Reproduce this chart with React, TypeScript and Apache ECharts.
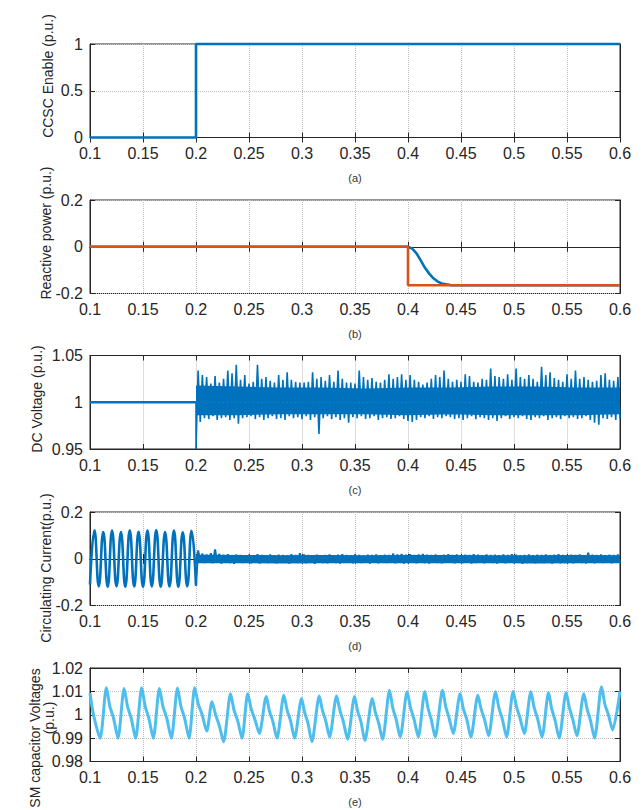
import React, { useEffect, useRef } from "react";
import * as echarts from "echarts";

// ---- (a) CCSC enable signal ----
const enableT = [0.1, 0.2, 0.2, 0.6];
const enableV = [0, 0, 1, 1];

// ---- (b) reactive power: reference and measured ----
const qRefT = [0.1, 0.4, 0.4, 0.6];
const qRefV = [0, 0, -0.165, -0.165];
const qMeasT = [0.1, 0.4, 0.404, 0.408, 0.412, 0.416, 0.42, 0.424, 0.428, 0.432, 0.436, 0.44, 0.446, 0.6];
const qMeasV = [0, 0, -0.008, -0.028, -0.058, -0.09, -0.115, -0.135, -0.149, -0.157, -0.161, -0.164, -0.165, -0.165];

// ---- (c) DC voltage ----
const dcPreT = [0.1, 0.2];
const dcPreV = [1, 1];
const dcStepT = [0.2, 0.2];
const dcStepV = [1, 0.95];
// dense body of the ripple band after 0.2 s
const dcCoreT = [0.2, 0.24, 0.28, 0.32, 0.36, 0.4, 0.44, 0.48, 0.52, 0.56, 0.6];
const dcCoreHi = [1.017, 1.016, 1.015, 1.015, 1.014, 1.015, 1.015, 1.016, 1.016, 1.015, 1.015];
const dcCoreLo = [0.987, 0.987, 0.988, 0.988, 0.988, 0.987, 0.988, 0.987, 0.987, 0.987, 0.988];
// ripple excursions, one high / low pair every 4 ms
const dcHi = [
  1.034, 1.029, 1.027, 1.020, 1.028, 1.021, 1.025, 1.034, 1.031, 1.040,
  1.024, 1.029, 1.020, 1.022, 1.040, 1.025, 1.027, 1.023, 1.021, 1.029,
  1.024, 1.032, 1.024, 1.022, 1.021, 1.021, 1.022, 1.032, 1.025, 1.027,
  1.023, 1.029, 1.022, 1.034, 1.025, 1.021, 1.021, 1.020, 1.034, 1.027,
  1.024, 1.026, 1.022, 1.021, 1.024, 1.030, 1.025, 1.027, 1.030, 1.024,
  1.029, 1.024, 1.022, 1.019, 1.021, 1.025, 1.029, 1.027, 1.034, 1.025,
  1.022, 1.024, 1.022, 1.030, 1.028, 1.022, 1.021, 1.025, 1.024, 1.036,
  1.028, 1.027, 1.025, 1.030, 1.024, 1.036, 1.027, 1.025, 1.029, 1.025,
  1.022, 1.038, 1.029, 1.032, 1.026, 1.024, 1.022, 1.030, 1.025, 1.034,
  1.025, 1.027, 1.024, 1.022, 1.023, 1.029, 1.031, 1.024, 1.023, 1.027,
];
const dcLo = [
  0.979, 0.983, 0.982, 0.985, 0.981, 0.983, 0.984, 0.981, 0.983, 0.977,
  0.983, 0.984, 0.985, 0.982, 0.984, 0.981, 0.983, 0.985, 0.982, 0.983,
  0.981, 0.985, 0.983, 0.984, 0.982, 0.985, 0.981, 0.984, 0.966, 0.983,
  0.985, 0.982, 0.984, 0.981, 0.983, 0.978, 0.984, 0.983, 0.985, 0.982,
  0.983, 0.985, 0.981, 0.983, 0.984, 0.982, 0.983, 0.985, 0.982, 0.980,
  0.979, 0.981, 0.984, 0.983, 0.985, 0.982, 0.984, 0.983, 0.985, 0.984,
  0.982, 0.983, 0.981, 0.983, 0.985, 0.982, 0.984, 0.983, 0.981, 0.983,
  0.980, 0.983, 0.985, 0.982, 0.984, 0.983, 0.985, 0.982, 0.981, 0.984,
  0.983, 0.985, 0.981, 0.983, 0.984, 0.982, 0.985, 0.983, 0.984, 0.982,
  0.983, 0.985, 0.981, 0.978, 0.976, 0.983, 0.982, 0.984, 0.981, 0.983,
];

// ---- (d) circulating current ----
// oscillation extremes before suppression
const ccWaveT = [
  0.1, 0.1042, 0.1083, 0.1125, 0.1167, 0.1208, 0.125, 0.1292, 0.1333, 0.1375,
  0.1417, 0.1458, 0.15, 0.1542, 0.1583, 0.1625, 0.1667, 0.1708, 0.175, 0.1792,
  0.1833, 0.1875, 0.1917, 0.1958, 0.2,
];
const ccWaveV = [
  -0.11, 0.122, -0.118, 0.114, -0.12, 0.121, -0.118, 0.114, -0.12, 0.122,
  -0.119, 0.115, -0.12, 0.121, -0.118, 0.123, -0.12, 0.114, -0.119, 0.121,
  -0.12, 0.113, -0.118, 0.12, -0.115,
];
// dense body of the residual ripple
const ccCoreT = [0.2, 0.24, 0.28, 0.32, 0.36, 0.4, 0.44, 0.48, 0.52, 0.56, 0.6];
const ccCoreHi = [0.014, 0.013, 0.012, 0.013, 0.012, 0.013, 0.013, 0.012, 0.012, 0.013, 0.012];
const ccCoreLo = [-0.016, -0.016, -0.017, -0.016, -0.016, -0.015, -0.016, -0.016, -0.017, -0.016, -0.016];
// residual ripple excursions after 0.2 s
const ccHi = [
  0.036, 0.022, 0.018, 0.024, 0.040, 0.021, 0.017, 0.019, 0.015, 0.018,
  0.016, 0.014, 0.017, 0.015, 0.019, 0.016, 0.014, 0.018, 0.015, 0.017,
  0.016, 0.015, 0.019, 0.016, 0.024, 0.018, 0.016, 0.015, 0.017, 0.014,
  0.016, 0.018, 0.015, 0.017, 0.019, 0.016, 0.015, 0.018, 0.016, 0.014,
  0.017, 0.016, 0.018, 0.015, 0.017, 0.016, 0.022, 0.018, 0.020, 0.017,
  0.019, 0.016, 0.018, 0.020, 0.017, 0.016, 0.018, 0.015, 0.017, 0.019,
  0.016, 0.018, 0.015, 0.017, 0.016, 0.019, 0.017, 0.015, 0.018, 0.016,
  0.017, 0.015, 0.018, 0.016, 0.019, 0.017, 0.015, 0.016, 0.018, 0.015,
  0.017, 0.016, 0.018, 0.015, 0.017, 0.019, 0.016, 0.015, 0.017, 0.016,
  0.018, 0.015, 0.026, 0.017, 0.016, 0.018, 0.015, 0.017, 0.016, 0.018,
];
const ccLo = [
  -0.012, -0.018, -0.016, -0.019, -0.015, -0.020, -0.017, -0.018, -0.021, -0.016,
  -0.018, -0.015, -0.019, -0.017, -0.020, -0.016, -0.018, -0.015, -0.019, -0.017,
  -0.016, -0.020, -0.017, -0.018, -0.015, -0.019, -0.016, -0.021, -0.017, -0.018,
  -0.019, -0.016, -0.018, -0.020, -0.017, -0.015, -0.019, -0.017, -0.018, -0.016,
  -0.020, -0.017, -0.019, -0.016, -0.018, -0.015, -0.019, -0.017, -0.020, -0.018,
  -0.016, -0.019, -0.017, -0.018, -0.020, -0.016, -0.018, -0.019, -0.017, -0.015,
  -0.019, -0.017, -0.018, -0.016, -0.020, -0.018, -0.017, -0.019, -0.016, -0.018,
  -0.020, -0.017, -0.019, -0.016, -0.018, -0.017, -0.021, -0.018, -0.016, -0.019,
  -0.017, -0.018, -0.016, -0.020, -0.017, -0.019, -0.018, -0.016, -0.019, -0.017,
  -0.018, -0.020, -0.016, -0.019, -0.017, -0.018, -0.016, -0.019, -0.017, -0.018,
];

// ---- (e) SM capacitor voltage ----
const smLeadT = [0.1, 0.1033, 0.1095];
const smLeadV = [1.0093, 1.0, 0.99];
const smPeakT = [
  0.1155, 0.1322, 0.1488, 0.1655, 0.1826, 0.1988, 0.2151, 0.2326, 0.2488, 0.2663,
  0.2829, 0.2996, 0.3163, 0.3326, 0.3496, 0.3663, 0.3826, 0.3992, 0.4159, 0.4326,
  0.4492, 0.4659, 0.4826, 0.4992, 0.5159, 0.5326, 0.5492, 0.5659, 0.5826,
];
const smPeakV = [
  1.0115, 1.0112, 1.0115, 1.0112, 1.0114, 1.0115, 1.0056, 1.009, 1.009, 1.0078,
  1.0083, 1.007, 1.008, 1.008, 1.0078, 1.007, 1.0105, 1.0098, 1.01, 1.0105,
  1.009, 1.0083, 1.0098, 1.01, 1.0098, 1.0095, 1.0095, 1.009, 1.012,
];
// knee on the falling flank of each cycle
const smShoulderHi = [
  1.0035, 1.0035, 1.0035, 1.0035, 1.0035, 1.0045, 1.0002, 1.002, 1.0025, 1.0015,
  1.002, 1.001, 1.002, 1.002, 1.0015, 1.001, 1.003, 1.003, 1.003, 1.0035,
  1.0025, 1.0025, 1.003, 1.0035, 1.003, 1.0025, 1.003, 1.0025, 1.0045,
];
const smShoulderLo = [
  0.9985, 0.9985, 0.9985, 0.9985, 0.9985, 1.0, 0.9955, 0.9975, 0.998, 0.997,
  0.9975, 0.9965, 0.9975, 0.997, 0.997, 0.9965, 0.998, 0.998, 0.998, 0.9985,
  0.998, 0.998, 0.998, 0.9985, 0.998, 0.9975, 0.998, 0.9975, 1.0,
];
const smTroughT = [
  0.1264, 0.143, 0.1597, 0.1767, 0.1934, 0.2101, 0.226, 0.2434, 0.2597, 0.2764,
  0.293, 0.3093, 0.326, 0.343, 0.3593, 0.376, 0.3926, 0.4097, 0.4256, 0.4426,
  0.4593, 0.476, 0.493, 0.5097, 0.5264, 0.5426, 0.5593, 0.576, 0.593,
];
const smTroughV = [
  0.99, 0.99, 0.99, 0.99, 0.99, 0.993, 0.9885, 0.99, 0.992, 0.99,
  0.99, 0.9885, 0.9905, 0.9895, 0.989, 0.9895, 0.9905, 0.9905, 0.9905, 0.992,
  0.9905, 0.991, 0.9905, 0.992, 0.9905, 0.99, 0.991, 0.99, 0.9935,
];
const smEndT = [0.6];
const smEndV = [1.01];

// ---- axis ticks / labels ----
const timeMin = 0.1;
const timeMax = 0.6;
const timeStep = 0.05;
const panelLetters = ["(a)", "(b)", "(c)", "(d)", "(e)"];

const BLUE = "#0072BD";
const ORANGE = "#D95319";
const LIGHT_BLUE = "#4DBEEE";
const AX = "#262626";
const GRID_LINE = "#bdbdbd";
const FONT = "'Liberation Sans', Arial, Helvetica, sans-serif";

const PLOT_LEFT = 90;
const PLOT_RIGHT = 22;
const PLOT_H = 93.5;

const panels = [
  { top: 44, yMin: 0, yMax: 1, yStep: 0.5 },
  { top: 200, yMin: -0.2, yMax: 0.2, yStep: 0.2 },
  { top: 355.5, yMin: 0.95, yMax: 1.05, yStep: 0.05 },
  { top: 512, yMin: -0.2, yMax: 0.2, yStep: 0.2 },
  { top: 668, yMin: 0.98, yMax: 1.02, yStep: 0.01 },
];

const pairs = (ts: number[], vs: number[]) => ts.map((t, i) => [t, vs[i]]);

// alternating high/low samples of a fast ripple, t0 + step*(i+0.5) for highs
function ripple(t0: number, step: number, hi: number[], lo: number[]) {
  const out: number[][] = [];
  const n = Math.min(hi.length, lo.length);
  for (let i = 0; i < n; i++) {
    out.push([t0 + step * (i + 0.5), hi[i]]);
    out.push([t0 + step * (i + 1), lo[i]]);
  }
  return out;
}

function capacitorTrace() {
  const out: number[][] = pairs(smLeadT, smLeadV);
  for (let k = 0; k < smPeakT.length; k++) {
    const tp = smPeakT[k];
    const tt = smTroughT[k];
    out.push([tp, smPeakV[k]]);
    out.push([tp + (tt - tp) * 0.3, smShoulderHi[k]]);
    out.push([tp + (tt - tp) * 0.62, smShoulderLo[k]]);
    out.push([tt, smTroughV[k]]);
  }
  return out.concat(pairs(smEndT, smEndV));
}

const fmt = (v: number) => String(parseFloat(v.toFixed(3)));

function buildOption() {
  const grid: any[] = [];
  const xAxis: any[] = [];
  const yAxis: any[] = [];
  const graphic: any[] = [];

  panels.forEach((p, i) => {
    grid.push({
      left: PLOT_LEFT,
      right: PLOT_RIGHT,
      top: p.top,
      height: PLOT_H,
      show: true,
      borderColor: AX,
      borderWidth: 1,
      backgroundColor: "#fff",
    });
    const tick = { show: true, inside: true, length: 5, lineStyle: { color: AX, width: 1 } };
    const line = { show: true, lineStyle: { color: AX, width: 1 } };
    xAxis.push({
      gridIndex: i,
      type: "value",
      position: "bottom",
      min: timeMin,
      max: timeMax,
      interval: timeStep,
      axisLine: line,
      axisTick: tick,
      axisLabel: { fontSize: 16, color: AX, margin: 8, fontFamily: FONT, formatter: fmt },
      splitLine: { show: true, lineStyle: { type: "dotted", color: GRID_LINE, width: 1 } },
    });
    xAxis.push({
      gridIndex: i,
      type: "value",
      position: "top",
      min: timeMin,
      max: timeMax,
      interval: timeStep,
      axisLine: line,
      axisTick: tick,
      axisLabel: { show: false },
      splitLine: { show: false },
    });
    yAxis.push({
      gridIndex: i,
      type: "value",
      position: "left",
      min: p.yMin,
      max: p.yMax,
      interval: p.yStep,
      axisLine: line,
      axisTick: tick,
      axisLabel: { fontSize: 16, color: AX, margin: 7, fontFamily: FONT, formatter: fmt },
      splitLine: { show: true, lineStyle: { type: "dotted", color: GRID_LINE, width: 1 } },
    });
    yAxis.push({
      gridIndex: i,
      type: "value",
      position: "right",
      min: p.yMin,
      max: p.yMax,
      interval: p.yStep,
      axisLine: line,
      axisTick: tick,
      axisLabel: { show: false },
      splitLine: { show: false },
    });
    graphic.push({
      type: "text",
      x: 355,
      y: p.top + PLOT_H + 40.5,
      style: {
        text: panelLetters[i],
        font: `11px ${FONT}`,
        fill: "#333",
        align: "center",
        verticalAlign: "middle",
        textAlign: "center",
        textVerticalAlign: "middle",
      },
    });
  });

  const yLabels = [
    { text: "CCSC Enable (p.u.)", x: 48, y: 76 },
    { text: "Reactive power (p.u.)", x: 46, y: 233 },
    { text: "DC Voltage (p.u.)", x: 37, y: 399 },
    { text: "Circulating Current(p.u.)", x: 46, y: 568 },
    { text: "SM capacitor Voltages", x: 35, y: 738 },
    { text: "(p.u.)", x: 49, y: 718 },
  ];
  yLabels.forEach((l) => {
    graphic.push({
      type: "text",
      x: l.x,
      y: l.y,
      rotation: Math.PI / 2,
      style: {
        text: l.text,
        font: `14px ${FONT}`,
        fill: AX,
        align: "center",
        verticalAlign: "middle",
        textAlign: "center",
        textVerticalAlign: "middle",
      },
    });
  });

  const base = {
    type: "line",
    showSymbol: false,
    symbol: "none",
    silent: true,
    animation: false,
  };
  // solid band filled from an edge to the band's centre value
  const band = (xi: number, data: number[][], origin: number) => ({
    ...base,
    xAxisIndex: xi,
    yAxisIndex: xi,
    data,
    lineStyle: { color: BLUE, width: 1.5 },
    areaStyle: { color: BLUE, opacity: 1, origin },
  });

  const ccTail = ccWaveT.length - 1;
  const series: any[] = [
    {
      ...base,
      xAxisIndex: 0,
      yAxisIndex: 0,
      clip: false,
      data: pairs(enableT, enableV),
      lineStyle: { color: BLUE, width: 2.6 },
    },
    {
      ...base,
      xAxisIndex: 2,
      yAxisIndex: 2,
      data: pairs(qMeasT, qMeasV),
      lineStyle: { color: BLUE, width: 2.6 },
    },
    {
      ...base,
      xAxisIndex: 2,
      yAxisIndex: 2,
      data: pairs(qRefT, qRefV),
      lineStyle: { color: ORANGE, width: 2.6 },
    },
    {
      ...base,
      xAxisIndex: 4,
      yAxisIndex: 4,
      data: pairs(dcPreT, dcPreV),
      lineStyle: { color: BLUE, width: 2.6 },
    },
    band(4, pairs(dcCoreT, dcCoreHi), 1),
    band(4, pairs(dcCoreT, dcCoreLo), 1),
    {
      ...base,
      xAxisIndex: 4,
      yAxisIndex: 4,
      data: pairs(dcStepT, dcStepV).concat(ripple(0.2, 0.004, dcHi, dcLo)),
      lineStyle: { color: BLUE, width: 1.6 },
    },
    {
      ...base,
      xAxisIndex: 6,
      yAxisIndex: 6,
      smooth: 0.5,
      data: pairs(ccWaveT, ccWaveV),
      lineStyle: { color: BLUE, width: 2.6 },
    },
    band(6, pairs(ccCoreT, ccCoreHi), 0),
    band(6, pairs(ccCoreT, ccCoreLo), 0),
    {
      ...base,
      xAxisIndex: 6,
      yAxisIndex: 6,
      data: [[ccWaveT[ccTail], ccWaveV[ccTail]]].concat(ripple(0.2, 0.004, ccHi, ccLo)),
      lineStyle: { color: BLUE, width: 2 },
    },
    {
      ...base,
      xAxisIndex: 8,
      yAxisIndex: 8,
      smooth: 0.25,
      data: capacitorTrace(),
      lineStyle: { color: LIGHT_BLUE, width: 3 },
    },
  ];

  return {
    animation: false,
    backgroundColor: "#fff",
    textStyle: { fontFamily: FONT },
    grid,
    xAxis,
    yAxis,
    series,
    graphic,
  };
}

export default function App() {
  const ref = useRef<HTMLDivElement>(null);
  useEffect(() => {
    document.body.style.margin = "0";
    if (!ref.current) return;
    const chart = echarts.init(ref.current, null, { renderer: "svg" });
    chart.setOption(buildOption() as any);
    return () => chart.dispose();
  }, []);
  return <div ref={ref} style={{ width: 642, height: 810, background: "#fff" }} />;
}
